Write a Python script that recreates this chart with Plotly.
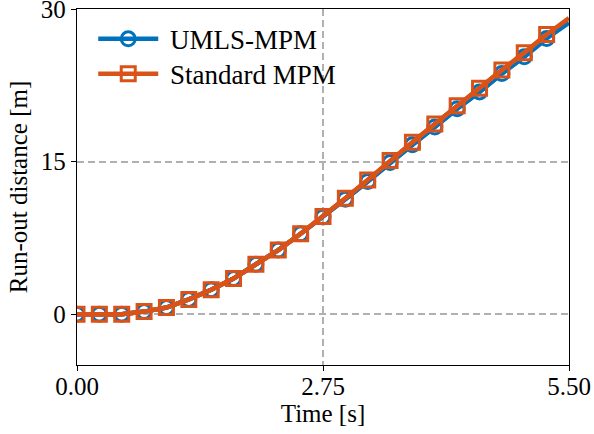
import plotly.graph_objects as go

# Data
time_s = [0.0, 0.25, 0.5, 0.75, 1.0, 1.25, 1.5, 1.75, 2.0, 2.25, 2.5, 2.75,
          3.0, 3.25, 3.5, 3.75, 4.0, 4.25, 4.5, 4.75, 5.0, 5.25, 5.5]
standard_mpm = [0, 0, 0, 0.25, 0.65, 1.45, 2.4, 3.5, 4.9, 6.3, 7.9, 9.6,
                11.4, 13.2, 15.1, 16.9, 18.7, 20.5, 22.2, 24.0, 25.7, 27.5, 29.1]
umls_mpm = [0, 0, 0, 0.25, 0.65, 1.45, 2.4, 3.5, 4.9, 6.3, 7.9, 9.55,
            11.3, 13.05, 14.9, 16.65, 18.4, 20.2, 21.85, 23.65, 25.3, 27.1, 28.65]
n_marked = 22  # markers shown at every 0.25 s up to 5.25 s

x_ticks = [0, 2.75, 5.5]
x_tick_labels = ["0.00", "2.75", "5.50"]
y_ticks = [0, 15, 30]
y_tick_labels = ["0", "15", "30"]

BLUE = "#0072BD"
ORANGE = "#D95319"
FONT = "Liberation Serif"

fig = go.Figure()

series = [("\u00a0UMLS-MPM", umls_mpm, BLUE, "circle-open", "legend"),
          ("\u00a0Standard MPM", standard_mpm, ORANGE, "square-open", "legend2")]
for name, ys, color, symbol, leg in series:
    fig.add_trace(go.Scatter(
        x=time_s, y=ys, mode="lines", showlegend=False,
        line=dict(color=color, width=4.5), cliponaxis=True, hoverinfo="skip"))
    fig.add_trace(go.Scatter(
        x=time_s[:n_marked], y=ys[:n_marked], mode="lines+markers", name=name,
        line=dict(color=color, width=4.5), legend=leg,
        marker=dict(symbol=symbol, size=14, color=color, line=dict(width=3, color=color)),
        cliponaxis=True))

axis_common = dict(
    showline=True, linecolor="black", linewidth=1.3, mirror=True,
    ticks="outside", ticklen=5, tickwidth=1.3, tickcolor="black",
    showgrid=True, gridcolor="#b0b0b0", gridwidth=1.5, griddash="7px,4px",
    zeroline=False, tickfont=dict(family=FONT, size=25, color="black"),
    automargin=False, ticklabeloverflow="allow",
)

fig.update_xaxes(range=[0, 5.5], tickvals=x_ticks, ticktext=x_tick_labels, ticklabelstandoff=-6,
                 title=dict(text="Time [s]", font=dict(family=FONT, size=25, color="black"), standoff=0),
                 **axis_common)
fig.update_yaxes(range=[-5, 30], tickvals=y_ticks, ticktext=y_tick_labels,
                 title=dict(text="Run-out distance [m]", font=dict(family=FONT, size=25, color="black"), standoff=6),
                 **axis_common)

leg_common = dict(xanchor="left", yanchor="middle",
                  font=dict(family=FONT, size=27, color="black"),
                  bgcolor="rgba(255,255,255,0)", itemwidth=60)
fig.update_layout(
    width=594, height=434,
    margin=dict(l=77, r=25, t=9, b=69),
    plot_bgcolor="white", paper_bgcolor="white",
    font=dict(family=FONT, color="black"),
    legend=dict(x=0.033, y=0.915, **leg_common),
    legend2=dict(x=0.033, y=0.817, **leg_common),
)

fig.write_html("out.html", config={"displayModeBar": False},
               post_script="document.body.style.margin='0';document.body.style.overflow='hidden';")
